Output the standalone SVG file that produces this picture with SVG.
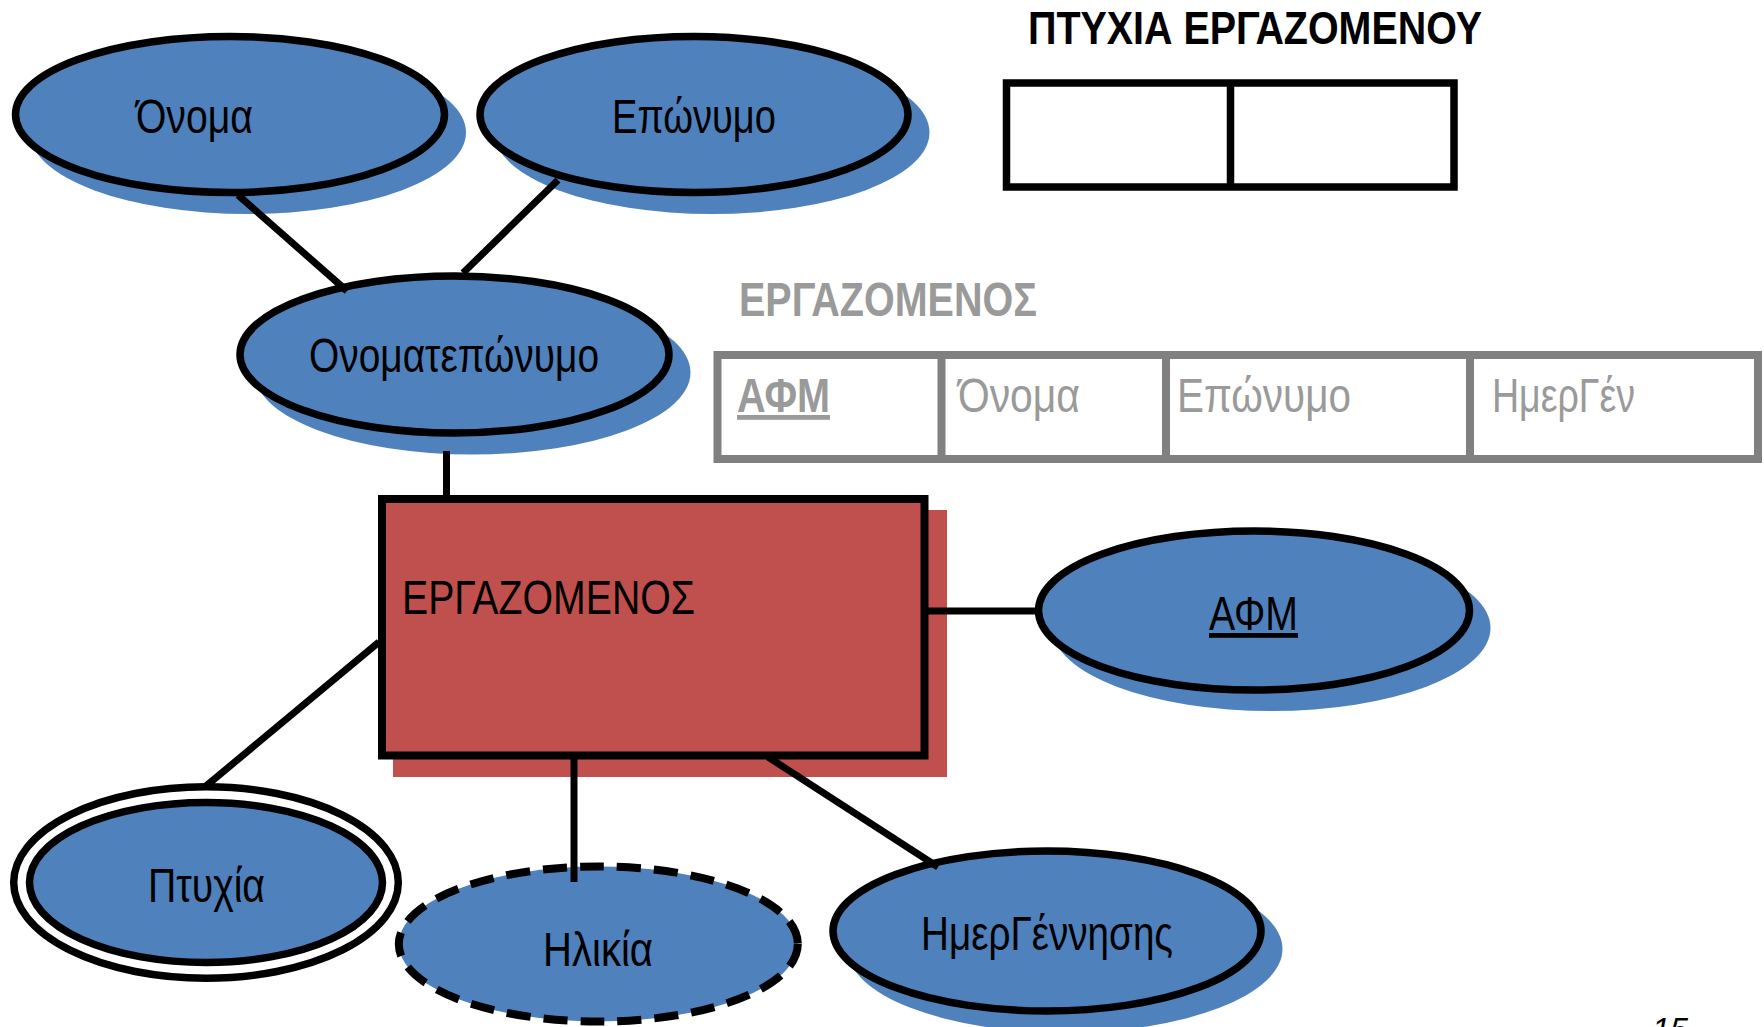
<svg xmlns="http://www.w3.org/2000/svg" width="1764" height="1027" viewBox="0 0 1764 1027">
<style>
  text { font-family: "Liberation Sans", Arial, sans-serif; }
  .lbl { font-size: 48px; fill: #000; }
  .attr { fill: #4F81BD; stroke: #000; stroke-width: 7.5; }
  .shadow { fill: #4F81BD; stroke: none; }
  .conn { stroke: #000; stroke-width: 7; fill: none; }
  .gray { fill: #9A9A9A; font-size: 48px; }
  .tbl { fill: #fff; stroke: #808080; stroke-width: 8; }
  .tdiv { stroke: #808080; stroke-width: 8; }
  .box { fill: #fff; stroke: #000; stroke-width: 7.5; }
</style>
<rect width="1764" height="1027" fill="#fff"/>

<g id="onoma">
  <ellipse class="shadow" cx="248" cy="132.5" rx="218" ry="81.5"/>
  <ellipse class="attr" cx="230" cy="114.5" rx="214.5" ry="78"/>
  <text class="lbl" x="136" y="133" textLength="117" lengthAdjust="spacingAndGlyphs">Όνομα</text>
</g>

<g id="eponymo">
  <ellipse class="shadow" cx="712" cy="132.5" rx="217.5" ry="81.5"/>
  <ellipse class="attr" cx="694" cy="114.5" rx="214" ry="78"/>
  <text class="lbl" x="612" y="133" textLength="164" lengthAdjust="spacingAndGlyphs">Επώνυμο</text>
</g>

<g id="onomateponymo">
  <ellipse class="shadow" cx="472.5" cy="372.5" rx="218" ry="82"/>
  <ellipse class="attr" cx="454.5" cy="354.5" rx="214.5" ry="78.5"/>
  <text class="lbl" x="309" y="372" textLength="290" lengthAdjust="spacingAndGlyphs">Ονοματεπώνυμο</text>
</g>

<g id="ergazomenos">
  <rect x="393" y="510" width="554" height="267" fill="#C0504D"/>
  <rect x="382" y="499" width="542.5" height="256.5" fill="#C0504D" stroke="#000" stroke-width="8"/>
  <text x="402" y="614" font-size="48" textLength="293" lengthAdjust="spacingAndGlyphs">ΕΡΓΑΖΟΜΕΝΟΣ</text>
</g>

<g id="afm">
  <ellipse class="shadow" cx="1271.5" cy="628" rx="219" ry="83"/>
  <ellipse class="attr" cx="1254" cy="610.5" rx="215.5" ry="79.5"/>
  <text class="lbl" x="1209" y="630" textLength="89" lengthAdjust="spacingAndGlyphs" text-decoration="underline">ΑΦΜ</text>
</g>

<g id="ptyxia">
  <ellipse cx="206" cy="882.5" rx="192.3" ry="95.7" fill="#fff" stroke="#000" stroke-width="7.5"/>
  <ellipse class="attr" cx="206" cy="882.5" rx="176.5" ry="80"/>
  <text class="lbl" x="148" y="902" textLength="117" lengthAdjust="spacingAndGlyphs">Πτυχία</text>
</g>

<g id="hlikia">
  <ellipse cx="598.3" cy="944" rx="199.5" ry="77.5" fill="#4F81BD" stroke="#000" stroke-width="8" stroke-dasharray="24 13"/>
  <text class="lbl" x="543" y="966" textLength="110" lengthAdjust="spacingAndGlyphs">Ηλικία</text>
</g>

<g id="hmergennisis">
  <ellipse class="shadow" cx="1065" cy="949" rx="217.5" ry="83.5"/>
  <ellipse class="attr" cx="1047" cy="931" rx="214" ry="80"/>
  <text class="lbl" x="921" y="950" textLength="252" lengthAdjust="spacingAndGlyphs">ΗμερΓέννησης</text>
</g>

<g id="connectors">
  <line class="conn" x1="238" y1="195" x2="347" y2="291"/>
  <line class="conn" x1="558" y1="180" x2="463" y2="273"/>
  <line class="conn" x1="446.5" y1="451" x2="446.5" y2="499"/>
  <line class="conn" x1="928" y1="611" x2="1036" y2="611"/>
  <line class="conn" x1="379" y1="642" x2="206" y2="786"/>
  <line class="conn" x1="574" y1="759" x2="574" y2="882"/>
  <line class="conn" x1="768" y1="757" x2="938" y2="867"/>
</g>

<g id="ptyxia-ergazomenou-table">
  <text x="1028" y="44" font-size="47" font-weight="bold" textLength="454" lengthAdjust="spacingAndGlyphs">ΠΤΥΧΙΑ ΕΡΓΑΖΟΜΕΝΟΥ</text>
  <rect class="box" x="1006.5" y="83" width="447.5" height="104"/>
  <line x1="1230.5" y1="83" x2="1230.5" y2="187" stroke="#000" stroke-width="7.5"/>
</g>

<g id="ergazomenos-table">
  <text class="gray" x="739" y="316" font-weight="bold" font-size="49" textLength="298" lengthAdjust="spacingAndGlyphs">ΕΡΓΑΖΟΜΕΝΟΣ</text>
  <rect class="tbl" x="717.5" y="355" width="1040.5" height="104"/>
  <line class="tdiv" x1="941.5" y1="355" x2="941.5" y2="459"/>
  <line class="tdiv" x1="1166" y1="355" x2="1166" y2="459"/>
  <line class="tdiv" x1="1470" y1="355" x2="1470" y2="459"/>
  <text class="gray" x="737" y="412" font-weight="bold" textLength="93" lengthAdjust="spacingAndGlyphs" text-decoration="underline">ΑΦΜ</text>
  <text class="gray" x="958" y="412" textLength="122" lengthAdjust="spacingAndGlyphs">Όνομα</text>
  <text class="gray" x="1177" y="412" textLength="174" lengthAdjust="spacingAndGlyphs">Επώνυμο</text>
  <text class="gray" x="1492" y="412" textLength="143" lengthAdjust="spacingAndGlyphs">ΗμερΓέν</text>
</g>

<text x="1652" y="1041" font-size="34" font-style="italic" textLength="36" lengthAdjust="spacingAndGlyphs">15</text>
</svg>
